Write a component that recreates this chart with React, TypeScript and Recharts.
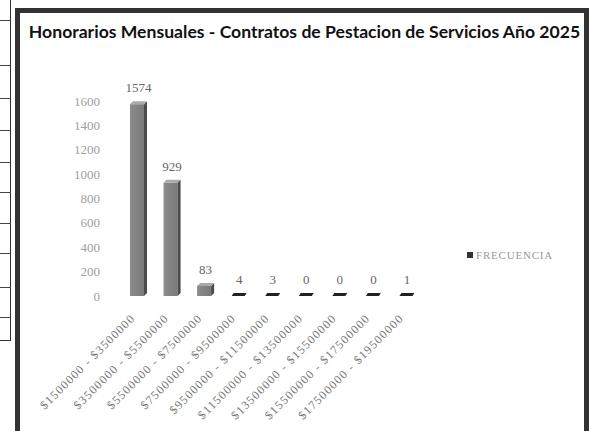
import React from 'react';
import { BarChart, Bar, XAxis, YAxis, Legend, LabelList } from 'recharts';

const rangos = [
  '$1500000 - $3500000',
  '$3500000 - $5500000',
  '$5500000 - $7500000',
  '$7500000 - $9500000',
  '$9500000 - $11500000',
  '$11500000 - $13500000',
  '$13500000 - $15500000',
  '$15500000 - $17500000',
  '$17500000 - $19500000',
];
const frecuencia = [1574, 929, 83, 4, 3, 0, 0, 0, 1];
const yTicks = [0, 200, 400, 600, 800, 1000, 1200, 1400, 1600];

const data = rangos.map((r, i) => ({ rango: r, FRECUENCIA: frecuencia[i] }));

const serif = '"Liberation Serif", "DejaVu Serif", serif';

// barra con algo de efecto 3D como en Excel
const Bar3D = (props: any) => {
  const { x, y, width, height } = props;
  const d = 3;
  const fw = width - d;
  const base = y + height;
  if (height < 1) {
    return (
      <polygon
        points={`${x + 1},${base} ${x + fw},${base} ${x + width - 1},${base - d} ${x + d},${base - d}`}
        fill="#222"
      />
    );
  }
  return (
    <g>
      <rect x={x} y={y} width={fw} height={height} fill="url(#frente)" />
      <polygon
        points={`${x + fw},${y} ${x + width},${y - d} ${x + width},${base - d} ${x + fw},${base}`}
        fill="#4a4a4a"
      />
      <polygon points={`${x},${y} ${x + d},${y - d} ${x + width},${y - d} ${x + fw},${y}`} fill="#aaa" />
    </g>
  );
};

const RangoTick = (props: any) => {
  const { x, y, payload } = props;
  return (
    <text
      transform={`translate(${x - 3},${y + 15}) rotate(-45)`}
      textAnchor="end"
      fontFamily={serif}
      fontSize={12}
      letterSpacing={1.2}
      fill="#777"
    >
      {payload.value}
    </text>
  );
};

const Leyenda = () => (
  <div style={{ display: 'flex', alignItems: 'center', fontFamily: serif, fontSize: 11, color: '#999', letterSpacing: 0.8 }}>
    <span style={{ width: 6, height: 6, background: '#333', display: 'inline-block', marginRight: 3 }} />
    FRECUENCIA
  </div>
);

const filasTabla = [20, 65, 98, 130, 162, 192, 223, 253, 287, 317];

export default function App() {
  return (
    <div style={{ position: 'absolute', left: 0, top: 0, width: 598, height: 431, overflow: 'hidden', background: '#fff' }}>
      {/* resto de la tabla escaneada a la izquierda */}
      <div style={{ position: 'absolute', left: 0, top: 0, width: 10, height: 340, borderRight: '1.5px solid #333', borderBottom: '1.5px solid #333' }}>
        {filasTabla.map((t) => (
          <div key={t} style={{ position: 'absolute', left: 0, top: t, width: 10, borderTop: '1px solid #444' }} />
        ))}
      </div>
      <div
        style={{
          position: 'absolute',
          left: 20,
          top: 21,
          width: 569,
          textAlign: 'center',
          fontFamily: 'Lato, "Open Sans", sans-serif',
          fontWeight: 700,
          fontSize: 17.6,
          color: '#111',
          whiteSpace: 'nowrap',
        }}
      >
        Honorarios Mensuales - Contratos de Pestacion de Servicios Año 2025
      </div>
      <div style={{ position: 'absolute', left: 15, top: 8, width: 564, height: 440, border: '5px solid #333' }} />
      <div style={{ position: 'absolute', left: 0, top: 0 }}>
        <BarChart width={598} height={431} data={data} margin={{ top: 101, right: 174, bottom: 0, left: 82 }} barSize={17}>
          <defs>
            <linearGradient id="frente" x1="0" y1="0" x2="1" y2="0">
              <stop offset="0%" stopColor="#8c8c8c" />
              <stop offset="100%" stopColor="#7a7a7a" />
            </linearGradient>
          </defs>
          <XAxis dataKey="rango" height={135} interval={0} axisLine={false} tickLine={false} tick={<RangoTick />} />
          <YAxis
            width={40}
            domain={[0, 1600]}
            ticks={yTicks}
            axisLine={false}
            tickLine={false}
            tickMargin={16}
            tick={{ fontFamily: serif, fontSize: 13, fill: '#a0a0a0' }}
          />
          <Legend
            layout="vertical"
            align="center"
            verticalAlign="middle"
            content={<Leyenda />}
            wrapperStyle={{ left: 467, top: 249, width: 110 }}
          />
          <Bar dataKey="FRECUENCIA" shape={<Bar3D />} isAnimationActive={false}>
            <LabelList dataKey="FRECUENCIA" position="top" offset={12} fontFamily={serif} fontSize={13} fill="#666" />
          </Bar>
        </BarChart>
      </div>
    </div>
  );
}
